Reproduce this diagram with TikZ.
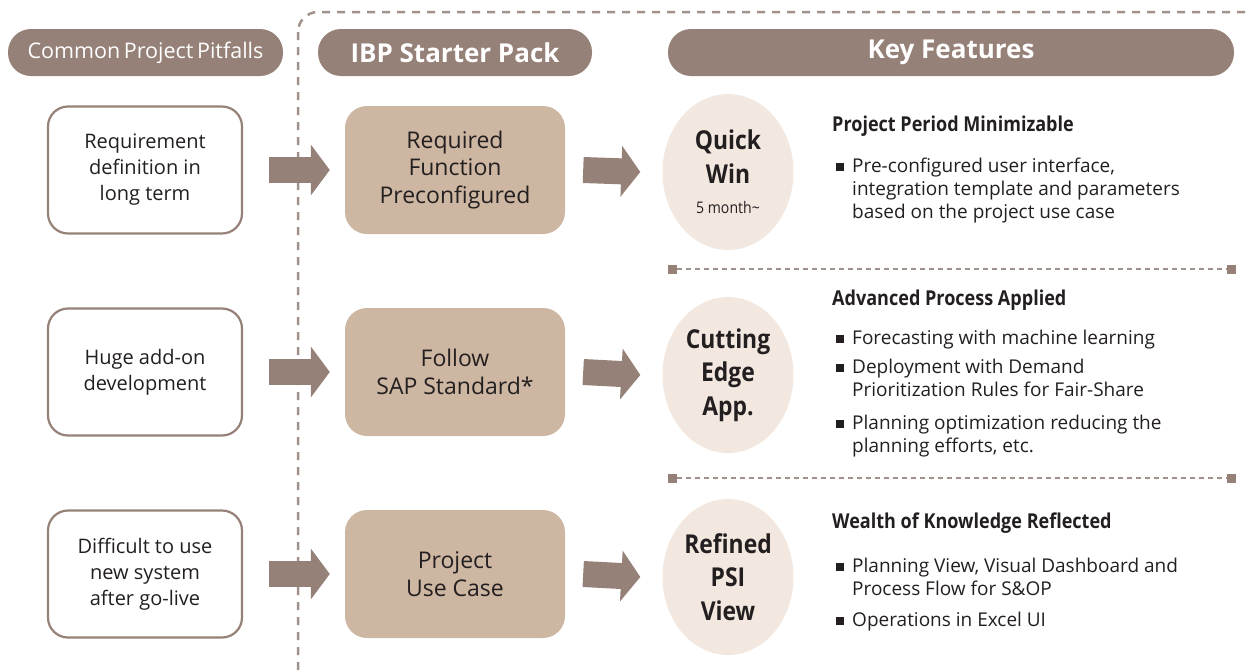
\documentclass[tikz,border=0pt]{standalone}
\usepackage{fontspec}
\setmainfont{Open Sans}
\newfontfamily\cbf[FakeStretch=0.88]{Open Sans}
\usetikzlibrary{shapes.geometric,arrows.meta}
\definecolor{hdr}{RGB}{150,129,120}
\definecolor{tan}{RGB}{205,182,162}
\definecolor{pale}{RGB}{242,232,223}
\definecolor{ink}{RGB}{35,31,32}
\definecolor{dash}{RGB}{160,146,138}
\tikzset{
  hdrbox/.style={fill=hdr,rounded corners=23pt,minimum height=47pt,text=white,inner sep=0pt},
  pitbox/.style={draw=hdr,line width=2.2pt,fill=white,rounded corners=20pt,minimum width=194pt,minimum height=127pt,text=ink,align=center,inner sep=0pt,font=\fontsize{20}{26}\selectfont},
  packbox/.style={fill=tan,rounded corners=22pt,minimum width=220pt,minimum height=128pt,text=ink,align=center,inner sep=0pt,font=\fontsize{23}{27.5}\selectfont},
  featell/.style={ellipse,fill=pale,minimum width=131pt,minimum height=156pt,inner sep=0pt,text=ink,align=center,font=\cbf\fontsize{26}{33.5}\selectfont\bfseries},
  fatarrow/.style={draw=hdr,line width=26pt,-{Triangle[length=19pt,width=50pt]}},
  ftitle/.style={anchor=west,text=ink,inner sep=0pt,font=\cbf\fontsize{20.5}{24}\selectfont\bfseries},
  fitem/.style={anchor=base west,text=ink,inner sep=0pt,align=left,font=\fontsize{19}{23}\selectfont},
  sq/.style={fill=ink,minimum size=8pt,inner sep=0pt},
  endsq/.style={fill=hdr,minimum size=9pt,inner sep=0pt},
  divline/.style={draw=dash,line width=2pt,dash pattern=on 5pt off 4pt},
}
\begin{document}
\begin{tikzpicture}[x=1pt,y=-1pt]
\useasboundingbox (0,0) rectangle (1248,670);
% dashed frame
\draw[draw=dash,line width=2.5pt,dash pattern=on 8pt off 7pt,rounded corners=20pt] (298,12) rectangle (1264,690);
% headers
\node[hdrbox,minimum width=275pt,font=\fontsize{21.5}{26}\selectfont] (h1) at (145.5,52.5) {Common\,Project\,Pitfalls};
\node[hdrbox,minimum width=274pt,font=\fontsize{26}{30}\selectfont\bfseries] (h2) at (455,52.5) {IBP Starter Pack};
\node[hdrbox,minimum width=566pt,font=\fontsize{26}{30}\selectfont\bfseries] (h3) at (951,52.5) {Key Features};
% pitfalls
\node[pitbox] (l1) at (145,170) {Requirement\\definition in\\long term};
\node[pitbox] (l2) at (145,372) {Huge add-on\\development};
\node[pitbox] (l3) at (145,574) {Difficult to use\\new system\\after go-live};
% starter pack
\node[packbox] (m1) at (455,170) {Required\\Function\\Preconfigured};
\node[packbox] (m2) at (455,372) {Follow\\SAP Standard*};
\node[packbox] (m3) at (455,574) {Project\\Use Case};
% ellipses
\node[featell] (e1) at (728,172) {Quick\\Win\\[-3pt]{\fontsize{16}{20}\selectfont\mdseries 5 month\textasciitilde}};
\node[featell] (e2) at (728,375) {Cutting\\Edge\\App.};
\node[featell] (e3) at (728,577) {Refined\\PSI\\View};
% arrows
\foreach \i in {1,2,3}{
  \draw[fatarrow] ([xshift=26pt]l\i.east) -- ([xshift=-15pt]m\i.west);
  \draw[fatarrow] ([xshift=18pt]m\i.east) -- ([xshift=-22pt]e\i.west);
}
% feature 1
\node[ftitle] (t1) at (832,126) {Project Period Minimizable};
\node[sq] (s11) at (840,167) {};
\node[fitem] (i11) at (852,218) {Pre-configured user interface,\\integration template and parameters\\based on the project use case};
% divider 1
\node[endsq] (d1a) at (672,269) {};
\node[endsq] (d1b) at (1231,269) {};
\draw[divline] (d1a.east) -- (d1b.west);
% feature 2
\node[ftitle] (t2) at (832,300) {Advanced Process Applied};
\node[sq] (s21) at (840,339) {};
\node[fitem] (i21) at (852,344) {Forecasting with machine learning};
\node[sq] (s22) at (840,368) {};
\node[fitem] (i22) at (852,396) {Deployment with Demand\\Prioritization Rules for Fair-Share};
\node[sq] (s23) at (840,424) {};
\node[fitem] (i23) at (852,452) {Planning optimization reducing the\\planning efforts, etc.};
% divider 2
\node[endsq] (d2a) at (672,478) {};
\node[endsq] (d2b) at (1231,478) {};
\draw[divline] (d2a.east) -- (d2b.west);
% feature 3
\node[ftitle] (t3) at (832,523) {Wealth of Knowledge Reflected};
\node[sq] (s31) at (840,567) {};
\node[fitem] (i31) at (852,595) {Planning View, Visual Dashboard and\\Process Flow for S\&OP};
\node[sq] (s32) at (840,621) {};
\node[fitem] (i32) at (852,626) {Operations in Excel UI};
\end{tikzpicture}
\end{document}
